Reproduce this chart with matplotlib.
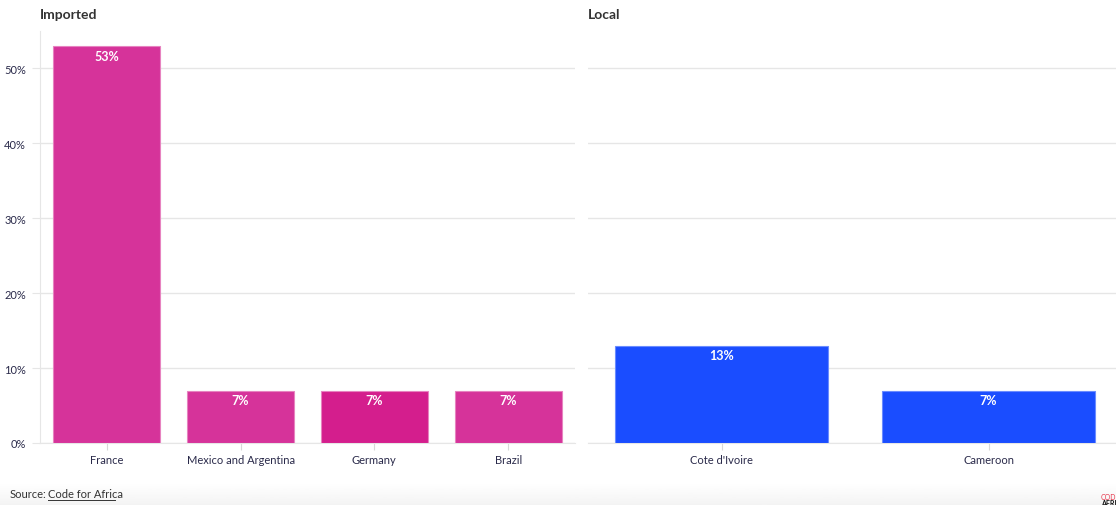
import numpy as np
import matplotlib.pyplot as plt
from matplotlib.ticker import FuncFormatter

# Datos
imported_paises = ['France', 'Mexico and Argentina', 'Germany', 'Brazil']
imported_valores = [53, 7, 7, 7]
imported_colores = ['#D6339A', '#D6339A', '#D41E8D', '#D6339A']

local_paises = ["Cote d'Ivoire", 'Cameroon']
local_valores = [13, 7]
local_colores = ['#1A4DFF', '#1A4DFF']

yticks = [0, 10, 20, 30, 40, 50]

plt.rcParams['font.family'] = ['Lato', 'DejaVu Sans']

fig = plt.figure(figsize=(11.16, 5.06), dpi=100)
W, H = 1116, 506

def px(x0, y0, x1, y1):
    return [x0 / W, 1 - y1 / H, (x1 - x0) / W, (y1 - y0) / H]

# Banda gris suave al pie
fondo = fig.add_axes(px(0, 484, W, H), zorder=-1)
grad = np.linspace(1.0, 0.955, 50).reshape(-1, 1)
fondo.imshow(grad, aspect='auto', cmap='gray', vmin=0, vmax=1,
             extent=[0, 1, 0, 1], origin='upper')
fondo.axis('off')

ax1 = fig.add_axes(px(40, 32, 575, 444))
ax2 = fig.add_axes(px(588, 32, 1122, 444))

def dibujar(ax, paises, valores, colores, edge):
    x = range(len(paises))
    ax.bar(x, valores, width=0.8, color=colores, edgecolor=edge, linewidth=0.8, zorder=3)
    for i, v in zip(x, valores):
        ax.annotate(f'{v}%', (i, v), xytext=(0, -7), textcoords='offset points',
                    ha='center', va='center', color='white', fontsize=9,
                    fontweight='bold', zorder=4)
    ax.set_xlim(-0.5, len(paises) - 0.5)
    ax.set_ylim(0, 55)
    ax.set_yticks(yticks)
    ax.set_xticks(list(x))
    ax.set_xticklabels(paises)
    ax.yaxis.grid(True, color='#e6e6e6', linewidth=1, zorder=0)
    for s in ['top', 'right', 'left']:
        ax.spines[s].set_visible(False)
    ax.spines['bottom'].set_color('#e6e6e6')
    ax.tick_params(axis='x', colors='#d8d8d8', labelcolor='#2a2a4a', labelsize=8,
                   length=5, pad=3)
    ax.tick_params(axis='y', colors='#e6e6e6', labelcolor='#2a2a4a', labelsize=8,
                   length=6, pad=4)

dibujar(ax1, imported_paises, imported_valores, imported_colores, '#e783c0')
dibujar(ax2, local_paises, local_valores, local_colores, '#6a8cff')

ax1.spines['left'].set_visible(True)
ax1.spines['left'].set_color('#e6e6e6')
ax1.yaxis.set_major_formatter(FuncFormatter(lambda v, p: f'{v:.0f}%'))
ax2.tick_params(axis='y', left=False, labelleft=False)

fig.text(40 / W, 1 - 15 / H, 'Imported', fontsize=10, fontweight='bold',
         color='#333333', va='center', ha='left')
fig.text(588 / W, 1 - 15 / H, 'Local', fontsize=10, fontweight='bold',
         color='#333333', va='center', ha='left')

# Pie de fuente
fig.text(10 / W, 1 - 495 / H, 'Source:', fontsize=8, color='#333333', va='center')
fig.text(48 / W, 1 - 495 / H, 'Code for Africa', fontsize=8, color='#333333',
         va='center')
fig.add_artist(plt.Line2D([48 / W, 115 / W], [1 - 501 / H, 1 - 501 / H],
                          color='#333333', linewidth=0.7))
fig.text(1101 / W, 1 - 498 / H, 'COD', fontsize=5, color='#e8364c', va='center')
fig.text(1101 / W, 1 - 504 / H, 'AFRI', fontsize=5, fontweight='bold',
         color='#111111', va='center')

fig.savefig('out.png', dpi=100)
